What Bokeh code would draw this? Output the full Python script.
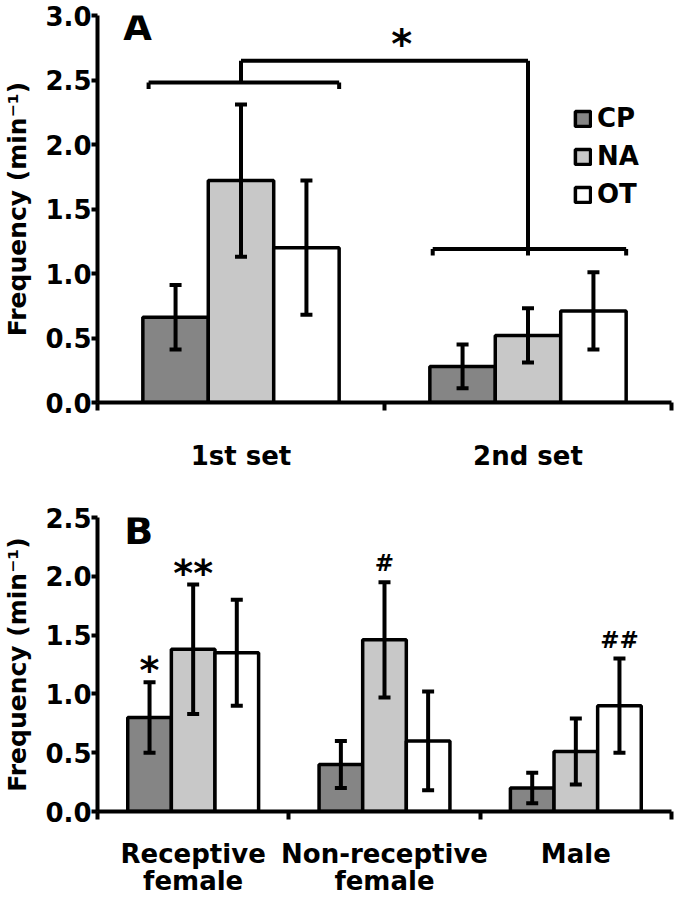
from bokeh.plotting import figure
from bokeh.models import (ColumnDataSource, Range1d, FixedTicker, NumeralTickFormatter,
                          Whisker, TeeHead, Label)
from bokeh.layouts import column
from bokeh.embed import file_html
from bokeh.resources import INLINE
from bokeh.core.properties import value

# ---------------- data ----------------
series = ["CP", "NA", "OT"]
series_colors = ["#858585", "#c8c8c8", "#ffffff"]

a_categories = ["1st set", "2nd set"]
a_cp = [0.66, 0.28]
a_cp_err = [0.25, 0.17]
a_na = [1.72, 0.52]
a_na_err = [0.59, 0.21]
a_ot = [1.20, 0.71]
a_ot_err = [0.52, 0.30]
a_yticks = [0.0, 0.5, 1.0, 1.5, 2.0, 2.5, 3.0]
a_ymax = 3.0
a_bracket_levels = [2.48, 1.19]   # bracket over each set
a_bracket_join = 2.65             # connecting line
a_sig = "*"

b_categories = ["Receptive\nfemale", "Non-receptive\nfemale", "Male"]
b_cp = [0.80, 0.40, 0.20]
b_cp_err = [0.30, 0.20, 0.13]
b_na = [1.38, 1.46, 0.51]
b_na_err = [0.55, 0.49, 0.28]
b_ot = [1.35, 0.60, 0.90]
b_ot_err = [0.45, 0.42, 0.40]
b_yticks = [0.0, 0.5, 1.0, 1.5, 2.0, 2.5]
b_ymax = 2.5
b_marks_group = [0, 0, 1, 2]
b_marks_series = ["CP", "NA", "NA", "OT"]
b_marks_text = ["*", "**", "#", "##"]

FONT = "DejaVu Sans"
FS = "26px"
BAR_W = 0.228
OFFS = [-BAR_W, 0.0, BAR_W]
LW = 4


def make_panel(cats, vals, errs, yticks, ymax, height, top_border, bottom_border,
               legend, standoff):
    n = len(cats)
    p = figure(width=677, height=height, output_backend="svg", toolbar_location=None,
               x_range=Range1d(0, n), y_range=Range1d(0, ymax),
               min_border_left=92, min_border_right=6,
               min_border_top=top_border, min_border_bottom=bottom_border)
    p.outline_line_color = None
    p.xgrid.visible = False
    p.ygrid.visible = False
    p.background_fill_color = "white"

    tops = {}
    for k, s in enumerate(series):
        xs = [i + 0.5 + OFFS[k] for i in range(n)]
        src = ColumnDataSource(dict(x=xs, top=vals[k],
                                    upper=[v + e for v, e in zip(vals[k], errs[k])],
                                    lower=[v - e for v, e in zip(vals[k], errs[k])]))
        kw = dict(legend_label=s) if legend else {}
        p.vbar(x="x", top="top", bottom=0, width=BAR_W, source=src,
               fill_color=series_colors[k], line_color="black", line_width=3.5, **kw)
        w = Whisker(source=src, base="x", upper="upper", lower="lower",
                    line_width=LW, line_color="black", level="overlay",
                    upper_head=TeeHead(size=12, line_width=LW, line_color="black"),
                    lower_head=TeeHead(size=12, line_width=LW, line_color="black"))
        p.add_layout(w)
        tops[s] = (xs, src.data["upper"])

    # x axis
    xa = p.xaxis[0]
    xa.ticker = FixedTicker(ticks=[i + 0.5 for i in range(n)], minor_ticks=list(range(n + 1)))
    xa.major_label_overrides = {i + 0.5: c for i, c in enumerate(cats)}
    xa.major_tick_line_color = None
    xa.minor_tick_line_color = "black"
    xa.minor_tick_line_width = LW
    xa.minor_tick_out = 8
    xa.minor_tick_in = 0
    xa.axis_line_width = LW
    xa.major_label_text_font = FONT
    xa.major_label_text_font_style = "bold"
    xa.major_label_text_font_size = FS
    xa.major_label_text_color = "black"
    xa.major_label_text_line_height = 0.92
    xa.major_label_standoff = standoff

    ya = p.yaxis[0]
    ya.ticker = FixedTicker(ticks=yticks)
    ya.formatter = NumeralTickFormatter(format="0.0")
    ya.axis_line_width = LW
    ya.major_tick_line_width = LW
    ya.major_tick_out = 6
    ya.major_tick_in = 0
    ya.minor_tick_line_color = None
    ya.major_label_text_font = FONT
    ya.major_label_text_font_style = "bold"
    ya.major_label_text_font_size = FS
    ya.major_label_text_color = "black"
    ya.major_label_standoff = 0
    ya.axis_label = "Frequency (min\u207b\u00b9)"
    ya.axis_label_text_font = FONT
    ya.axis_label_text_font_style = "bold"
    ya.axis_label_text_font_size = "25px"
    ya.axis_label_text_color = "black"
    ya.axis_label_standoff = 10
    return p, tops


# ---------------- panel A ----------------
pA, topsA = make_panel(a_categories, [a_cp, a_na, a_ot], [a_cp_err, a_na_err, a_ot_err],
                       a_yticks, a_ymax, 473, 15, 60, True, 30)

centers = [i + 0.5 for i in range(len(a_categories))]
left_in = [0.02, 0.01]
bx0, by0, bx1, by1 = [], [], [], []
for i, c in enumerate(centers):
    lv = a_bracket_levels[i]
    xl = c + OFFS[0] - BAR_W / 2 + left_in[i]
    xr = c + OFFS[2] + BAR_W / 2
    bx0 += [xl, xl, xr]
    by0 += [lv, lv - 0.05, lv - 0.05]
    bx1 += [xr, xl, xr]
    by1 += [lv, lv, lv]
# connecting lines
bx0 += [centers[0], centers[0], centers[1]]
by0 += [a_bracket_levels[0], a_bracket_join, a_bracket_join]
bx1 += [centers[0], centers[1], centers[1]]
by1 += [a_bracket_join, a_bracket_join, a_bracket_levels[1] - 0.05]
pA.segment(x0=bx0, y0=by0, x1=bx1, y1=by1, line_width=LW, line_color="black")
pA.text(x=[(centers[0] + centers[1]) / 2 + 0.06], y=[a_bracket_join], text=[a_sig],
        text_font=value(FONT), text_font_style="bold", text_font_size="40px",
        text_color="black", text_align="center", text_baseline="alphabetic", y_offset=-17)

lg = pA.legend[0]
lg.location = (476, 193)
lg.border_line_color = None
lg.background_fill_alpha = 0
lg.label_text_font = FONT
lg.label_text_font_style = "bold"
lg.label_text_font_size = FS
lg.label_text_color = "black"
lg.glyph_width = 19
lg.glyph_height = 19
lg.label_standoff = 5
lg.spacing = 8
lg.padding = 0
lg.margin = 0

pA.add_layout(Label(x=0.09, y=a_ymax, text="A", text_font=FONT, text_font_style="bold",
                    text_color="black", text_font_size="37px", text_baseline="top",
                    text_align="left", y_offset=10))

# ---------------- panel B ----------------
pB, topsB = make_panel(b_categories, [b_cp, b_na, b_ot], [b_cp_err, b_na_err, b_ot_err],
                       b_yticks, b_ymax, 426, 44, 80, False, 19)

star_x, star_y, star_t, hash_x, hash_y, hash_t = [], [], [], [], [], []
for g, s, t in zip(b_marks_group, b_marks_series, b_marks_text):
    xs, ups = topsB[s]
    if "*" in t:
        star_x.append(xs[g]); star_y.append(ups[g]); star_t.append(t)
    else:
        hash_x.append(xs[g]); hash_y.append(ups[g]); hash_t.append(t)
pB.text(x=star_x, y=star_y, text=star_t, text_font=value(FONT), text_font_style="bold",
        text_color="black", text_font_size="38px", text_align="center",
        text_baseline="alphabetic", y_offset=-12)
pB.text(x=hash_x, y=hash_y, text=hash_t, text_font=value(FONT), text_font_style="bold",
        text_color="black", text_font_size="23px", text_align="center",
        text_baseline="alphabetic", y_offset=-19)

pB.add_layout(Label(x=0.14, y=b_ymax, text="B", text_font=FONT, text_font_style="bold",
                    text_color="black", text_font_size="38px", text_baseline="top",
                    text_align="left", y_offset=9))

layout = column(pA, pB, spacing=0)
open("out.html", "w").write(file_html(layout, INLINE))
